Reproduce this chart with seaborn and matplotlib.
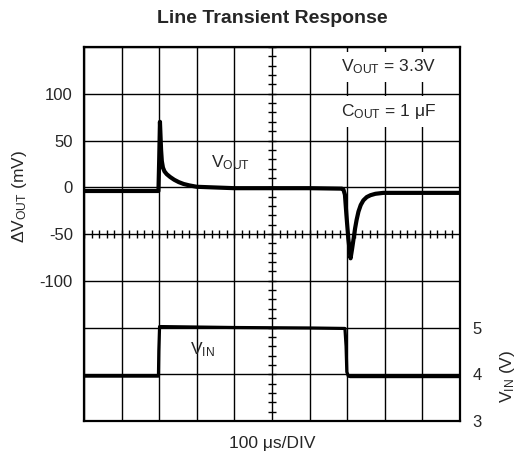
import numpy as np
import pandas as pd
import matplotlib
matplotlib.use("Agg")
import matplotlib.pyplot as plt
import seaborn as sns

# output deviation trace (time in us, mV)
t_vout = [0, 198, 200, 202, 203, 205, 207, 210, 214, 220, 229, 240, 252, 265, 280, 300,
          400, 500, 600, 686, 690, 694, 698, 703, 709, 713, 717, 721, 725, 730, 736,
          743, 752, 762, 775, 796, 850, 1000]
vout = [-4, -4, 30, 70, 60, 40, 28, 21, 17, 14, 11, 8, 5.5, 3.5, 2, 0.5,
        -1, -1, -1, -1.5, -2.5, -8, -30, -55, -76, -66, -55, -44, -35, -26, -19,
        -14, -10.5, -8.5, -7, -6, -6, -6]

# input voltage trace (time in us, V)
t_vin = [0, 198, 199, 201, 205, 400, 600, 694, 697, 699, 703, 708, 1000]
vin = [3.96, 3.96, 4.5, 5.02, 5.02, 5.0, 4.99, 4.98, 4.6, 4.05, 3.96, 3.95, 3.95]

left_ticks = [-250, -200, -150, -100, -50, 0, 50, 100, 150]
left_labels = ["", "", "", "-100", "-50", "0", "50", "100", ""]
right_ticks = [3, 4, 5]
time_ticks = list(range(0, 1001, 100))

sns.set_style("white")
plt.rcParams['font.family'] = ['Liberation Sans', 'DejaVu Sans']
plt.rcParams['mathtext.fontset'] = 'custom'
plt.rcParams['mathtext.rm'] = 'Liberation Sans'
plt.rcParams['mathtext.it'] = 'Liberation Sans:italic'
plt.rcParams['mathtext.bf'] = 'Liberation Sans:bold'

FS = 12.5

fig = plt.figure(figsize=(5.26, 4.55), dpi=100)
ax = fig.add_axes([0.1597, 0.0747, 0.7148, 0.822])

df_out = pd.DataFrame({"t": t_vout, "v": vout})
sns.lineplot(data=df_out, x="t", y="v", ax=ax, color="black", linewidth=3.0, zorder=5)

ax.set_xlim(0, 1000)
ax.set_ylim(-250, 150)
ax.set_xticks(time_ticks)
ax.set_xticklabels([])
ax.set_yticks(left_ticks)
ax.set_yticklabels(left_labels, fontsize=12)
ax.tick_params(axis="both", length=0, pad=8)
ax.grid(True, color="black", linewidth=1.0)
for s in ax.spines.values():
    s.set_linewidth(1.6)
    s.set_color("black")

# minor ticks on the centre lines
ax.plot(np.full(41, 500), np.arange(-250, 151, 10), ls="none", marker="_",
        ms=6, mew=1.0, color="black", zorder=2)
ax.plot(np.arange(0, 1001, 20), np.full(51, -50), ls="none", marker="|",
        ms=6, mew=1.0, color="black", zorder=2)

ax.set_xlabel("100 \u03bcs/DIV", fontsize=FS, labelpad=3)
ax.set_ylabel(r"$\Delta$V$_{\rm OUT}$ (mV)", fontsize=FS)
ax.yaxis.set_label_coords(-0.145, 0.6)
ax.set_title("Line Transient Response", fontsize=14, fontweight="bold", pad=17)

ax.text(390, 26, r"V$_{\rm OUT}$", fontsize=FS, ha="center", va="center")
ax.text(316, -174, r"V$_{\rm IN}$", fontsize=FS, ha="center", va="center")
ax.text(811, 129, "V$_{\\rm OUT}$ = 3.3V", fontsize=FS, ha="center", va="center",
        bbox=dict(facecolor="white", edgecolor="none", pad=4), zorder=6)
ax.text(811, 81, "C$_{\\rm OUT}$ = 1 \u03bcF", fontsize=FS, ha="center", va="center",
        bbox=dict(facecolor="white", edgecolor="none", pad=4), zorder=6)

ax2 = ax.twinx()
df_in = pd.DataFrame({"t": t_vin, "v": vin})
sns.lineplot(data=df_in, x="t", y="v", ax=ax2, color="black", linewidth=2.3)
ax2.set_ylim(3, 11)
ax2.set_xlim(0, 1000)
ax2.set_yticks(right_ticks)
ax2.set_yticklabels([str(v) for v in right_ticks], fontsize=12)
ax2.tick_params(axis="y", length=0, pad=9)
ax2.grid(False)
for s in ax2.spines.values():
    s.set_visible(False)
ax2.set_ylabel(r"V$_{\rm IN}$ (V)", fontsize=FS)
ax2.yaxis.set_label_coords(1.10, 0.12)

fig.savefig("out.png", dpi=100)
